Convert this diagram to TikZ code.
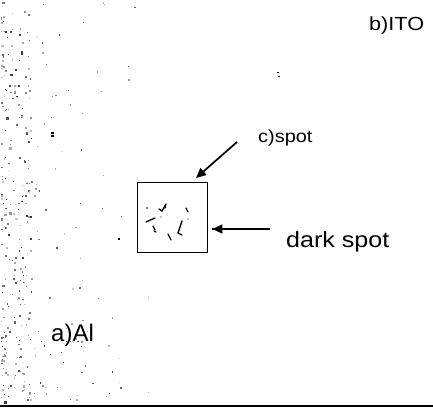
\documentclass[tikz,border=0pt]{standalone}
\usepackage{fontspec}
\setmainfont{Liberation Sans}
\newfontfamily\widesans[FakeStretch=1.14]{Liberation Sans}
\usetikzlibrary{arrows.meta}
\tikzset{
  lbl/.style={inner sep=0pt, anchor=base west, text=black},
  pointer/.style={line width=1.7pt, -{Triangle[length=10pt,width=9pt]}},
}
\begin{document}
\begin{tikzpicture}[x=1pt,y=-1pt]
  \useasboundingbox (0,0) rectangle (433,409);
  \fill[white] (0,0) rectangle (433,409);

  % grainy edge of the Al layer: dense on the far left, thinning out to the right
  \pgfmathsetseed{4711}
  \foreach \i in {1,...,170}{
    \pgfmathsetmacro\sx{1+30*rnd^1.8}
    \pgfmathsetmacro\sy{2+400*rnd}
    \pgfmathsetmacro\sw{0.8+1.6*rnd}
    \pgfmathsetmacro\sg{20+60*rnd}
    \fill[black!\sg] (\sx,\sy) rectangle ++(\sw,\sw);
  }
  \foreach \i in {1,...,130}{
    \pgfmathsetmacro\sx{1+150*rnd^2.2}
    \pgfmathsetmacro\sy{2+400*rnd}
    \pgfmathsetmacro\sw{0.7+1.2*rnd}
    \pgfmathsetmacro\sg{15+50*rnd}
    \fill[black!\sg] (\sx,\sy) rectangle ++(\sw,\sw);
  }
  \foreach \i in {1,...,50}{
    \pgfmathsetmacro\sx{2+120*rnd^1.5}
    \pgfmathsetmacro\sy{330+70*rnd}
    \pgfmathsetmacro\sw{0.7+1.2*rnd}
    \pgfmathsetmacro\sg{20+55*rnd}
    \fill[black!\sg] (\sx,\sy) rectangle ++(\sw,\sw);
  }
  % isolated specks
  \fill (51,132) rectangle ++(3,2);
  \fill (51,135) rectangle ++(3,1.5);
  \fill (277,72) rectangle ++(2,1.5);
  \fill (278,76) rectangle ++(1.5,1.5);
  \fill (118,238) rectangle ++(1.5,1.5);
  \fill (212,228) rectangle ++(1.5,1.5);

  % inspected region with the dark spot
  \node[draw, line width=1.8pt, minimum size=70pt, inner sep=0pt] (spot) at (172.5,217.5) {};
  \begin{scope}[line width=1.3pt, line cap=round]
    \draw (146,222) -- (155,218);
    \draw (159,209) -- (162,211) -- (166,204);
    \draw (165,208) -- (165,206);
    \draw (182,221) -- (178,233);
    \draw (186,208) -- (188,212);
    \draw (178,233) -- (182,235);
    \draw (168,234) -- (171,240);
    \draw (153,226) -- (155,230);
    \draw (154,231) -- (156,232);
    \fill (147,208) circle (0.8);
    \fill (161,217) circle (0.7);
    \fill (188,219) circle (0.7);
  \end{scope}

  % labels
  \node[lbl, font=\widesans\fontsize{19}{22}\selectfont] (ito) at (369,31) {b)ITO};
  \node[lbl, font=\widesans\fontsize{17.5}{20}\selectfont] (cspot) at (258,142) {c)spot};
  \node[lbl, font=\widesans\fontsize{22}{26}\selectfont] (dark) at (286,247) {dark spot};
  \node[lbl, font=\fontsize{24}{28}\selectfont] (al) at (51,341) {a)Al};

  % pointers
  \coordinate (cFrom) at (237,142);
  \coordinate (cTo) at (196,178);
  \coordinate (dFrom) at (270,229);
  \draw[pointer] (cFrom) -- (cTo);
  \draw[pointer, shorten >=4pt] (dFrom) -- (spot.east |- dFrom);

  % bottom edge
  \coordinate (bl) at (0,406);
  \coordinate (br) at (433,406);
  \draw[line width=2.6pt] (bl) -- (br);
\end{tikzpicture}
\end{document}
